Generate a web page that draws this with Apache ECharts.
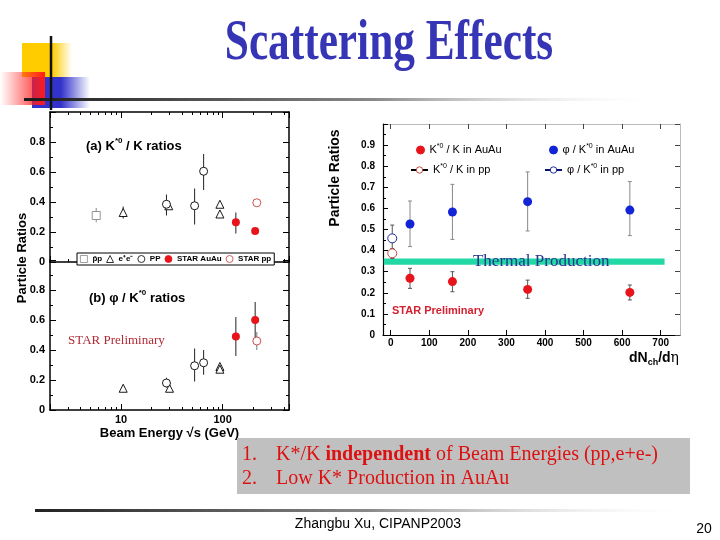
<!DOCTYPE html>
<html><head><meta charset="utf-8">
<script src="https://cdn.jsdelivr.net/npm/echarts@6/dist/echarts.min.js"></script>
<style>html,body{margin:0;padding:0;background:#fff}#c{width:720px;height:540px}</style>
</head><body><div id="c"></div>
<script>
// ---------------- data ----------------
// Left panel (a): K*0/K ratios vs beam energy sqrt(s) [GeV] : [E, value, errLow, errHigh]
const kkPbarp  = [[5.7, 0.31, 0.265, 0.36]];
const kkEE     = [[10.5, 0.33, 0.29, 0.37], [29.5, 0.375, null, null], [94, 0.385, null, null], [94, 0.32, null, null]];
const kkPP     = [[28, 0.385, 0.31, 0.45], [53, 0.375, 0.25, 0.49], [65, 0.605, 0.48, 0.72]];
const kkAuAu   = [[135, 0.265, 0.19, 0.33], [209, 0.207, 0.195, 0.22]];
const kkStarPP = [[217, 0.395, 0.375, 0.415]];
// Left panel (b): phi/K*0 ratios
const pkEE     = [[10.5, 0.145, null, null], [30, 0.145, null, null], [94, 0.29, null, null], [94, 0.272, null, null]];
const pkPP     = [[28, 0.18, 0.15, 0.215], [53, 0.295, 0.19, 0.41], [65, 0.315, 0.235, 0.40]];
const pkAuAu   = [[135, 0.49, 0.36, 0.62], [209, 0.60, 0.48, 0.72]];
const pkStarPP = [[217, 0.46, 0.40, 0.52]];
// Left axis ticks
const logMajor = [10, 100];
const logMinor = [3, 4, 5, 6, 7, 8, 9, 20, 30, 40, 50, 60, 70, 80, 90, 200, 300, 400];

// Right panel: ratios vs dNch/deta
const dNdEta      = [50, 160, 355, 620];
const rKKAuAu     = [0.269, 0.253, 0.216, 0.202];
const rKKAuAuLo   = [0.221, 0.205, 0.174, 0.166];
const rKKAuAuHi   = [0.316, 0.300, 0.260, 0.237];
const rPKAuAu     = [0.526, 0.583, 0.632, 0.592];
const rPKAuAuLo   = [0.419, 0.453, 0.493, 0.471];
const rPKAuAuHi   = [0.635, 0.714, 0.773, 0.727];
const dNdEtaPP    = [4];
const rKKpp       = [0.387], rKKppLo = [0.363], rKKppHi = [0.410];
const rPKpp       = [0.458], rPKppLo = [0.395], rPKppHi = [0.521];
const thermalY    = [0.333, 0.363];
const thermalX    = [-18, 710];
const rXTicks     = [0, 100, 200, 300, 400, 500, 600, 700];

// ---------------- helpers ----------------
const SANS = 'Liberation Sans', SERIF = 'Liberation Serif';
const L_MIN = 2, L_MAX = 450;
const zip = (xs, ys) => xs.map((x, i) => [x, ys[i]]);
const zip3 = (xs, a, b) => xs.map((x, i) => [x, a[i], b[i]]);
const pts = arr => arr.map(d => [d[0], d[1]]);
const errs = arr => arr.filter(d => d[2] != null).map(d => [d[0], d[2], d[3]]);
const yLab = v => (v > 0.999 ? '' : String(Math.round(v * 10) / 10));

function errSeries(data, xi, yi, color, cap) {
  return {
    type: 'custom', xAxisIndex: xi, yAxisIndex: yi, z: 1, silent: true,
    encode: { x: 0, y: [1, 2] }, data: data,
    renderItem: function (params, api) {
      const x = api.value(0), lo = api.value(1), hi = api.value(2);
      const a = api.coord([x, lo]), b = api.coord([x, hi]);
      const st = { stroke: color, lineWidth: 1 };
      const ch = [{ type: 'line', shape: { x1: a[0], y1: a[1], x2: b[0], y2: b[1] }, style: st }];
      if (cap) {
        ch.push({ type: 'line', shape: { x1: a[0] - cap, y1: a[1], x2: a[0] + cap, y2: a[1] }, style: st });
        ch.push({ type: 'line', shape: { x1: b[0] - cap, y1: b[1], x2: b[0] + cap, y2: b[1] }, style: st });
      }
      return { type: 'group', children: ch };
    }
  };
}
function scat(name, data, xi, yi, symbol, size, fill, border) {
  return {
    name: name, type: 'scatter', xAxisIndex: xi, yAxisIndex: yi, z: 3,
    symbol: symbol, symbolSize: size, data: data,
    itemStyle: { color: fill, borderColor: border || fill, borderWidth: border ? 0.9 : 0, opacity: 1 }
  };
}
const blk = { color: '#000' };
function leftY(gi, pos, label) {
  return {
    gridIndex: gi, type: 'value', min: 0, max: 1, interval: 0.2, position: pos,
    axisLine: { show: true, onZero: false, lineStyle: { color: '#000', width: 1.5 } },
    axisTick: { show: true, inside: true, length: 6, lineStyle: blk },
    minorTick: { show: true, splitNumber: 2, length: 3, lineStyle: blk },
    splitLine: { show: false }, minorSplitLine: { show: false },
    axisLabel: { show: label, formatter: yLab, fontFamily: SANS, fontWeight: 'bold', fontSize: 11, color: '#000', margin: 5 }
  };
}
function leftX(gi, pos, label) {
  return {
    gridIndex: gi, type: 'log', logBase: 10, min: L_MIN, max: L_MAX, position: pos,
    axisLine: { show: true, onZero: false, lineStyle: { color: '#000', width: 1.5 } },
    axisTick: { show: true, inside: true, length: 6, lineStyle: blk },
    splitLine: { show: false },
    axisLabel: {
      show: label, interval: 0, fontFamily: SANS, fontWeight: 'bold', fontSize: 11, color: '#000', margin: 4,
      formatter: v => (logMajor.some(m => Math.abs(v - m) < 1e-6 * m) ? String(Math.round(v)) : '')
    }
  };
}
function minorX(gi, pos) {
  return {
    gridIndex: gi, type: 'value', min: Math.log10(L_MIN), max: Math.log10(L_MAX), position: pos,
    axisLine: { show: false, onZero: false }, splitLine: { show: false }, axisLabel: { show: false },
    axisTick: { show: true, inside: true, length: 3, lineStyle: blk, customValues: logMinor.map(v => Math.log10(v)) }
  };
}
function supRich(size, weight) {
  return {
    t: { fontSize: size, fontWeight: weight, fontFamily: SANS, fill: '#000', lineHeight: size + 5 },
    s: { fontSize: Math.round(size * 0.62), fontWeight: weight, fontFamily: SANS, fill: '#000', verticalAlign: 'top', lineHeight: Math.round(size * 0.62) + 1 }
  };
}
function rLegend(name, left, top, w) {
  return {
    data: [name], left: left, top: top, padding: 0, itemWidth: w, itemHeight: 8, itemGap: 0,
    selectedMode: false,
    itemStyle: { borderWidth: 1 },
    formatter: n => n.replace('*0', '{s|*0}'),
    textStyle: {
      fontFamily: SANS, fontSize: 11, color: '#000', lineHeight: 14,
      rich: { s: { fontSize: 7, fontFamily: SANS, verticalAlign: 'top', lineHeight: 8, color: '#000' } }
    }
  };
}

const RED = '#e8141c', BLUE = '#1224d6';
const nKK = 'K*0 / K in AuAu', nPK = 'φ / K*0 in AuAu', nKKpp = 'K*0 / K in pp', nPKpp = 'φ / K*0 in pp';

const option = {
  animation: false,
  backgroundColor: '#fff',
  grid: [
    { left: 50, top: 112, width: 239, height: 150 },
    { left: 50, top: 260, width: 239, height: 150 },
    { left: 383, top: 124, width: 297, height: 211 }
  ],
  xAxis: [
    leftX(0, 'bottom', false),   // 0
    leftX(0, 'top', false),      // 1
    Object.assign(leftX(1, 'bottom', true), {
      name: 'Beam Energy √s (GeV)', nameLocation: 'middle', nameGap: 17,
      nameTextStyle: { fontFamily: SANS, fontWeight: 'bold', fontSize: 13, color: '#000' }
    }),                          // 2
    minorX(0, 'top'),            // 3
    minorX(1, 'bottom'),         // 4
    {                            // 5 right bottom
      gridIndex: 2, type: 'value', min: -20, max: 750, position: 'bottom',
      axisLine: { show: true, onZero: false, lineStyle: { color: '#000', width: 1.2 } },
      axisTick: { show: true, inside: true, length: 5, lineStyle: blk, customValues: rXTicks },
      splitLine: { show: false },
      axisLabel: { customValues: rXTicks, fontFamily: SANS, fontWeight: 'bold', fontSize: 10, color: '#000', margin: 3 }
    },
    {                            // 6 right top
      gridIndex: 2, type: 'value', min: -20, max: 750, position: 'top',
      axisLine: { show: true, onZero: false, lineStyle: { color: '#bbb', width: 1 } },
      axisTick: { show: true, inside: true, length: 5, lineStyle: { color: '#444' }, customValues: rXTicks },
      splitLine: { show: false }, axisLabel: { show: false }
    },
    minorX(0, 'bottom')          // 7
  ],
  yAxis: [
    leftY(0, 'left', true),
    leftY(0, 'right', false),
    leftY(1, 'left', true),
    leftY(1, 'right', false),
    {
      gridIndex: 2, type: 'value', min: 0, max: 1, interval: 0.1, position: 'left',
      axisLine: { show: true, onZero: false, lineStyle: { color: '#000', width: 1.2 } },
      axisTick: { show: true, inside: true, length: 5, lineStyle: blk },
      minorTick: { show: true, splitNumber: 2, length: 3, lineStyle: blk },
      splitLine: { show: false }, minorSplitLine: { show: false },
      axisLabel: { formatter: yLab, fontFamily: SANS, fontWeight: 'bold', fontSize: 10, color: '#000', margin: 8 }
    },
    {
      gridIndex: 2, type: 'value', min: 0, max: 1, interval: 0.1, position: 'right',
      axisLine: { show: true, onZero: false, lineStyle: { color: '#bbb', width: 1 } },
      axisTick: { show: true, inside: true, length: 5, lineStyle: { color: '#444' } },
      splitLine: { show: false }, axisLabel: { show: false }
    }
  ],
  legend: [
    {
      data: ['p\u0304p', 'e\u207Ae\u207B', 'PP', 'STAR AuAu', 'STAR pp'],
      left: 77, top: 253, padding: [2, 3], itemGap: 4, itemWidth: 7, itemHeight: 7,
      selectedMode: false,
      itemStyle: { borderWidth: 0.8 },
      backgroundColor: '#fff', borderColor: '#000', borderWidth: 1,
      textStyle: { fontFamily: SANS, fontWeight: 'bold', fontSize: 8, color: '#000' }
    },
    rLegend(nKK, 416, 143, 8),
    rLegend(nPK, 549, 143, 8),
    rLegend(nKKpp, 410, 163, 17),
    rLegend(nPKpp, 544, 163, 17)
  ],
  series: [
    // top-left error bars
    errSeries(errs(kkPbarp), 0, 0, '#888', 0),
    errSeries([].concat(errs(kkEE), errs(kkPP), errs(kkAuAu)), 0, 0, '#222', 0),
    errSeries(errs(kkStarPP), 0, 0, '#777', 0),
    scat('p\u0304p', pts(kkPbarp), 0, 0, 'rect', 8, '#fff', '#888'),
    scat('e\u207Ae\u207B', pts(kkEE), 0, 0, 'triangle', 8, '#fff', '#000'),
    scat('PP', pts(kkPP), 0, 0, 'circle', 8, '#fff', '#000'),
    scat('STAR AuAu', pts(kkAuAu), 0, 0, 'circle', 8, RED, null),
    scat('STAR pp', pts(kkStarPP), 0, 0, 'circle', 8, '#fff', '#c83c3c'),
    // bottom-left
    errSeries([].concat(errs(pkPP), errs(pkAuAu)), 2, 2, '#222', 0),
    errSeries(errs(pkStarPP), 2, 2, '#777', 0),
    scat('e\u207Ae\u207B', pts(pkEE), 2, 2, 'triangle', 8, '#fff', '#000'),
    scat('PP', pts(pkPP), 2, 2, 'circle', 8, '#fff', '#000'),
    scat('STAR AuAu', pts(pkAuAu), 2, 2, 'circle', 8, RED, null),
    scat('STAR pp', pts(pkStarPP), 2, 2, 'circle', 8, '#fff', '#c83c3c'),
    // right
    errSeries(zip3(dNdEta, rKKAuAuLo, rKKAuAuHi), 5, 4, '#555', 2),
    errSeries(zip3(dNdEta, rPKAuAuLo, rPKAuAuHi), 5, 4, '#888', 2),
    errSeries(zip3(dNdEtaPP, rKKppLo, rKKppHi), 5, 4, '#555', 2),
    errSeries(zip3(dNdEtaPP, rPKppLo, rPKppHi), 5, 4, '#555', 2),
    Object.assign(scat(nKK, zip(dNdEta, rKKAuAu), 5, 4, 'circle', 9, RED, null), {
      markArea: {
        silent: true,
        itemStyle: { color: '#22d9a6', opacity: 1 },
        label: {
          show: true, position: 'inside', offset: [17, 0],
          formatter: 'Thermal Production',
          fontFamily: SERIF, fontSize: 17, color: '#233490'
        },
        data: [[{ xAxis: thermalX[0], yAxis: thermalY[0] }, { xAxis: thermalX[1], yAxis: thermalY[1] }]]
      }
    }),
    scat(nPK, zip(dNdEta, rPKAuAu), 5, 4, 'circle', 9, BLUE, null),
    {
      name: nKKpp, type: 'line', xAxisIndex: 5, yAxisIndex: 4, z: 3, data: zip(dNdEtaPP, rKKpp),
      symbol: 'circle', symbolSize: 9, showSymbol: true,
      itemStyle: { color: '#fff', borderColor: '#c84a3c', borderWidth: 1 },
      lineStyle: { color: '#000', width: 1 }
    },
    {
      name: nPKpp, type: 'line', xAxisIndex: 5, yAxisIndex: 4, z: 3, data: zip(dNdEtaPP, rPKpp),
      symbol: 'circle', symbolSize: 9, showSymbol: true,
      itemStyle: { color: '#fff', borderColor: '#1c2a9a', borderWidth: 1 },
      lineStyle: { color: '#0a1470', width: 1 }
    }
  ],
  graphic: [
    // slide decorations
    { type: 'rect', shape: { x: 22, y: 43, width: 50, height: 34 }, z: 1,
      style: { fill: new echarts.graphic.LinearGradient(0, 0, 1, 0, [
        { offset: 0, color: '#ffcc00' }, { offset: 0.6, color: '#ffcc00' }, { offset: 1, color: 'rgba(255,204,0,0)' }]) } },
    { type: 'rect', shape: { x: 32, y: 77, width: 58, height: 31 }, z: 1,
      style: { fill: new echarts.graphic.LinearGradient(0, 0, 1, 0, [
        { offset: 0, color: '#3333cc' }, { offset: 0.5, color: '#3333cc' }, { offset: 1, color: 'rgba(51,51,204,0)' }]) } },
    { type: 'rect', shape: { x: 0, y: 72, width: 45, height: 33 }, z: 2,
      style: { fill: new echarts.graphic.LinearGradient(0, 0, 1, 0, [
        { offset: 0, color: 'rgba(255,40,40,0)' }, { offset: 1, color: '#ff1a1a' }]) } },
    { type: 'rect', shape: { x: 24, y: 98, width: 640, height: 3 }, z: 3,
      style: { fill: new echarts.graphic.LinearGradient(0, 0, 1, 0, [
        { offset: 0, color: '#1a1a1a' }, { offset: 0.55, color: '#8a8a8a' }, { offset: 1, color: 'rgba(255,255,255,0)' }]) } },
    { type: 'line', shape: { x1: 51, y1: 36, x2: 51, y2: 110 }, z: 3, style: { stroke: '#111', lineWidth: 2.5 } },
    { type: 'text', x: 389, y: 44, scaleX: 0.76, z: 5,
      style: { text: 'Scattering Effects', fontFamily: SERIF, fontWeight: 'bold', fontSize: 57,
        fill: '#3535b5', textAlign: 'center', textVerticalAlign: 'middle' } },
    // footer
    { type: 'rect', shape: { x: 35, y: 509, width: 665, height: 3 }, z: 3,
      style: { fill: new echarts.graphic.LinearGradient(0, 0, 1, 0, [
        { offset: 0, color: '#222' }, { offset: 0.5, color: '#888' }, { offset: 1, color: 'rgba(255,255,255,0)' }]) } },
    { type: 'text', x: 378, y: 524, z: 5,
      style: { text: 'Zhangbu Xu, CIPANP2003', fontFamily: SANS, fontSize: 14, fill: '#000', textAlign: 'center', textVerticalAlign: 'middle' } },
    { type: 'text', x: 704, y: 529, z: 5,
      style: { text: '20', fontFamily: SANS, fontSize: 14, fill: '#000', textAlign: 'center', textVerticalAlign: 'middle' } },
    // grey conclusion box
    { type: 'rect', shape: { x: 237, y: 438, width: 453, height: 56 }, z: 2, style: { fill: '#c0c0c0' } },
    { type: 'text', x: 242, y: 455, z: 5,
      style: { text: '1.', fontFamily: SERIF, fontSize: 20, fill: '#dd1111', textVerticalAlign: 'middle' } },
    { type: 'text', x: 276, y: 455, z: 5,
      style: { text: '{r|K*/K }{b|independent}{r| of Beam Energies (pp,e+e-)}', textVerticalAlign: 'middle',
        rich: { r: { fontFamily: SERIF, fontSize: 20, fill: '#dd1111' },
                b: { fontFamily: SERIF, fontSize: 20, fontWeight: 'bold', fill: '#dd1111' } } } },
    { type: 'text', x: 242, y: 479, z: 5,
      style: { text: '2.', fontFamily: SERIF, fontSize: 20, fill: '#dd1111', textVerticalAlign: 'middle' } },
    { type: 'text', x: 276, y: 479, z: 5,
      style: { text: 'Low K* Production in AuAu', fontFamily: SERIF, fontSize: 20, fill: '#dd1111', textVerticalAlign: 'middle' } },
    // left plot annotations
    { type: 'text', x: 86, y: 146, z: 5,
      style: { text: '{t|(a) K}{s|*0}{t| / K ratios}', textVerticalAlign: 'middle', rich: supRich(13, 'bold') } },
    { type: 'text', x: 89, y: 298, z: 5,
      style: { text: '{t|(b) φ / K}{s|*0}{t| ratios}', textVerticalAlign: 'middle', rich: supRich(13, 'bold') } },
    { type: 'text', x: 68, y: 341, z: 5,
      style: { text: 'STAR Preliminary', fontFamily: SERIF, fontSize: 13, fill: '#b02a35', textVerticalAlign: 'middle' } },
    { type: 'text', x: 22, y: 258, rotation: Math.PI / 2, z: 5,
      style: { text: 'Particle Ratios', fontFamily: SANS, fontWeight: 'bold', fontSize: 13, fill: '#000',
        textAlign: 'center', textVerticalAlign: 'middle' } },
    // right plot annotations
    { type: 'text', x: 335, y: 178, rotation: Math.PI / 2, z: 5,
      style: { text: 'Particle Ratios', fontFamily: SANS, fontWeight: 'bold', fontSize: 14, fill: '#000',
        textAlign: 'center', textVerticalAlign: 'middle' } },
    { type: 'text', x: 392, y: 311, z: 5,
      style: { text: 'STAR Preliminary', fontFamily: SANS, fontWeight: 'bold', fontSize: 11, fill: '#d42030', textVerticalAlign: 'middle' } },
    { type: 'text', x: 679, y: 358, z: 5,
      style: { text: '{a|dN}{b|ch}{a|/d}{c|η}', textAlign: 'right', textVerticalAlign: 'middle',
        rich: { a: { fontFamily: SANS, fontWeight: 'bold', fontSize: 14, fill: '#000', lineHeight: 18 },
                b: { fontFamily: SANS, fontWeight: 'bold', fontSize: 9, fill: '#000', verticalAlign: 'bottom', lineHeight: 12 },
                c: { fontFamily: 'DejaVu Serif', fontSize: 14, fill: '#000', lineHeight: 18 } } } }
  ]
};
const chart = echarts.init(document.getElementById('c'), null, { width: 720, height: 540 });
chart.setOption(option);
</script>
</body></html>
